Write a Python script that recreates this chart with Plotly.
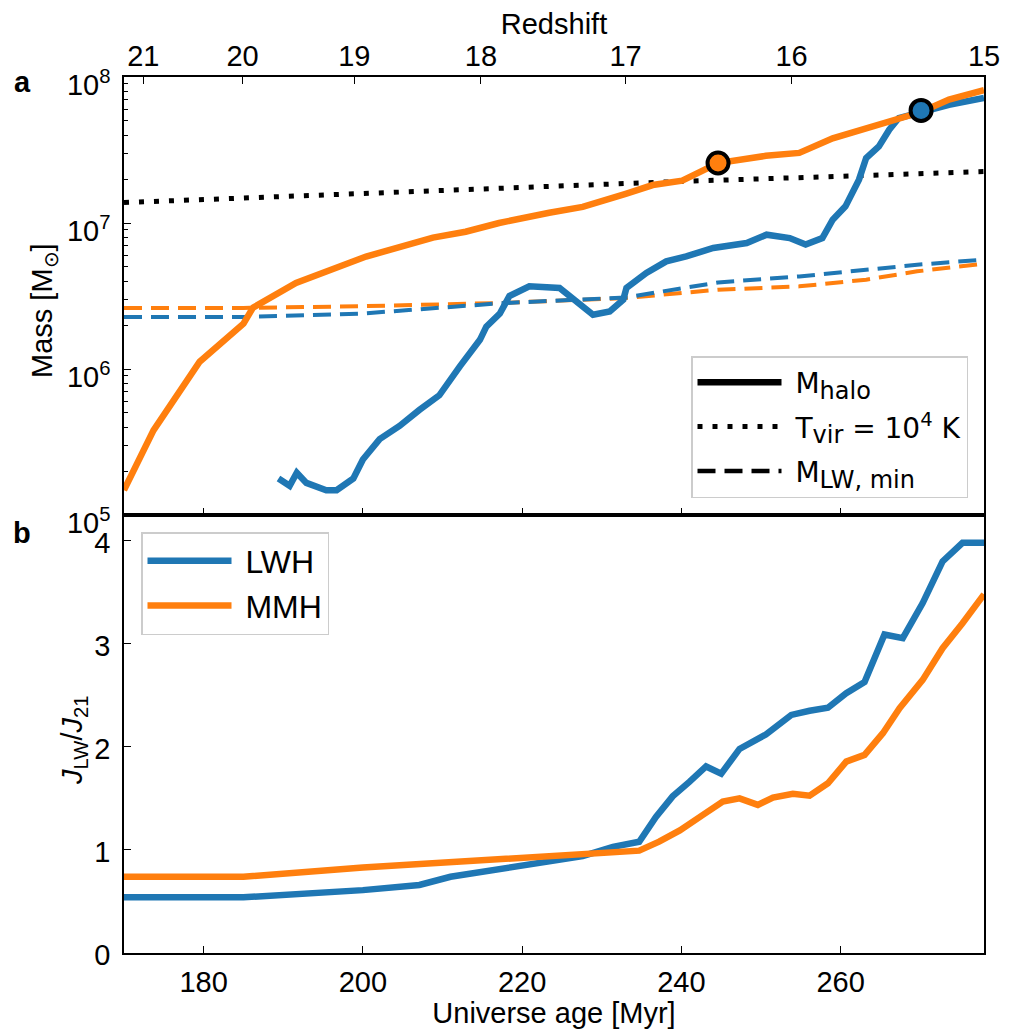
import plotly.graph_objects as go

# ---------------- data ----------------
# Panel a: halo masses (log10 of M / Msun)
mmh_age = [170.0, 173.7, 179.5, 185.0, 186.2, 191.6, 200.4, 208.8, 212.9, 217.1, 223.4,
           227.6, 233.0, 236.4, 240.1, 242.3, 244.6, 250.6, 254.8, 259.0, 263.2, 267.4,
           270.1, 273.6, 278.0]
mmh_logm = [5.17, 5.58, 6.05, 6.31, 6.42, 6.59, 6.77, 6.90, 6.94, 7.00, 7.07,
            7.11, 7.20, 7.26, 7.29, 7.35, 7.41, 7.46, 7.48, 7.58, 7.65, 7.71,
            7.76, 7.845, 7.91]

lwh_age = [189.4, 190.8, 191.7, 192.9, 195.4, 196.7, 198.8, 200.0, 202.1, 204.6, 207.1,
           209.6, 212.2, 214.7, 215.5, 217.2, 218.4, 220.9, 224.7, 226.4, 228.9, 231.0,
           232.7, 233.1, 235.6, 238.1, 240.6, 244.0, 248.2, 250.7, 253.6, 255.6, 257.7,
           259.0, 260.6, 262.3, 263.2, 264.8, 266.1, 267.3, 270.1, 273.6, 278.0]
lwh_logm = [5.25, 5.20, 5.29, 5.22, 5.17, 5.17, 5.25, 5.38, 5.52, 5.61, 5.72,
            5.82, 6.02, 6.20, 6.29, 6.38, 6.50, 6.566, 6.555, 6.475, 6.372, 6.394,
            6.475, 6.555, 6.658, 6.737, 6.771, 6.829, 6.863, 6.92, 6.897, 6.852, 6.897,
            7.023, 7.114, 7.297, 7.445, 7.525, 7.639, 7.719, 7.764, 7.81, 7.856]

# T_vir = 1e4 K mass threshold
tvir_age = [170.0, 200.0, 220.0, 240.0, 260.0, 278.0]
tvir_logm = [7.14, 7.205, 7.245, 7.285, 7.32, 7.353]

# Minimum LW mass (dashed)
mlw_age = [170.0, 185.0, 200.0, 217.1, 233.0, 244.6, 254.8, 263.2, 269.6, 278.0]
mlw_lwh_logm = [6.356, 6.356, 6.38, 6.45, 6.49, 6.593, 6.634, 6.68, 6.714, 6.749]
mlw_mmh_logm = [6.418, 6.418, 6.43, 6.452, 6.486, 6.543, 6.566, 6.612, 6.669, 6.721]

# markers
mark_mmh = (244.6, 7.411)
mark_lwh = (270.1, 7.771)

# Panel b: J_LW / J_21
j_lwh_age = [170.0, 185.0, 200.0, 207.1, 211.0, 217.2, 223.4, 227.6, 231.4, 234.7, 236.8,
             238.9, 241.0, 243.1, 245.0, 247.3, 250.6, 253.8, 256.1, 258.4, 260.7, 263.0,
             265.5, 267.8, 270.3, 272.8, 275.3, 278.0]
j_lwh = [0.54, 0.54, 0.61, 0.66, 0.74, 0.82, 0.89, 0.94, 1.03, 1.08, 1.32,
         1.52, 1.66, 1.81, 1.74, 1.98, 2.12, 2.31, 2.35, 2.38, 2.52, 2.63,
         3.09, 3.055, 3.395, 3.80, 3.98, 3.98]
j_mmh_age = [170.0, 185.0, 200.0, 208.8, 217.1, 223.4, 229.7, 234.7, 237.2, 239.8, 242.7,
             245.2, 247.3, 249.6, 251.5, 254.0, 256.1, 258.4, 260.7, 263.0, 265.3, 267.4,
             270.3, 272.8, 275.3, 278.0]
j_mmh = [0.74, 0.74, 0.83, 0.87, 0.91, 0.94, 0.968, 0.993, 1.08, 1.19, 1.34,
         1.47, 1.50, 1.437, 1.508, 1.544, 1.527, 1.647, 1.857, 1.922, 2.133, 2.376,
         2.65, 2.958, 3.20, 3.48]

# axis ticks
age_ticks = [180, 200, 220, 240, 260]
redshift_ticks = [21, 20, 19, 18, 17, 16, 15]
mass_ticks = [5, 6, 7, 8]
j_ticks = [0, 1, 2, 3, 4]

# ---------------- styling ----------------
BLUE = "#1f77b4"
ORANGE = "#ff7f0e"
FONT = "Liberation Sans"
TICKFONT = dict(family=FONT, size=29, color="black")
SUBSPAN = "<span style='font-size:24px'>%s</span>"
NBSP = "\u00a0"

# page geometry (the page body adds an 8 px offset)
OFF = 8
W, H = 1001, 1021
L, R, T, B = 116, 25, 69, 76
pwid, phei = W - L - R, H - T - B


def px(x_page):
    return (x_page - OFF - L) / pwid


def py(y_page):
    return (H - B - (y_page - OFF)) / phei


def redshift_to_age(z):
    # matter-dominated scaling anchored at z=15 -> 278 Myr
    return 278.0 * (16.0 / (1.0 + z)) ** 1.5


pw = lambda l: [10 ** v for v in l]

fig = go.Figure()

# --- panel a ---
fig.add_trace(go.Scatter(x=mlw_age, y=pw(mlw_mmh_logm), mode="lines", xaxis="x", yaxis="y",
                         line=dict(color=ORANGE, width=4, dash="18px,9px"), showlegend=False))
fig.add_trace(go.Scatter(x=mlw_age, y=pw(mlw_lwh_logm), mode="lines", xaxis="x", yaxis="y",
                         line=dict(color=BLUE, width=4, dash="18px,9px"), showlegend=False))
fig.add_trace(go.Scatter(x=tvir_age, y=pw(tvir_logm), mode="lines", xaxis="x", yaxis="y",
                         line=dict(color="black", width=5, dash="5px,10px"), showlegend=False))
fig.add_trace(go.Scatter(x=lwh_age, y=pw(lwh_logm), mode="lines", xaxis="x", yaxis="y",
                         line=dict(color=BLUE, width=6.5), showlegend=False))
fig.add_trace(go.Scatter(x=mmh_age, y=pw(mmh_logm), mode="lines", xaxis="x", yaxis="y",
                         line=dict(color=ORANGE, width=6.5), showlegend=False))
fig.add_trace(go.Scatter(x=[mark_mmh[0]], y=[10 ** mark_mmh[1]], mode="markers", xaxis="x", yaxis="y",
                         marker=dict(color=ORANGE, size=21, line=dict(color="black", width=4)),
                         showlegend=False))
fig.add_trace(go.Scatter(x=[mark_lwh[0]], y=[10 ** mark_lwh[1]], mode="markers", xaxis="x", yaxis="y",
                         marker=dict(color=BLUE, size=21, line=dict(color="black", width=4)),
                         showlegend=False))
# empty trace so the redshift (top) axis is drawn
fig.add_trace(go.Scatter(x=[None], y=[None], mode="lines", xaxis="x3", yaxis="y",
                         showlegend=False, hoverinfo="skip"))

# legend entries for panel a (style keys)
fig.add_trace(go.Scatter(x=[None], y=[None], mode="lines", xaxis="x", yaxis="y",
                         line=dict(color="black", width=6.5), legendgroup="g1",
                         name=NBSP + "M<sub>" + SUBSPAN % "halo" + "</sub>", legend="legend"))
fig.add_trace(go.Scatter(x=[None], y=[None], mode="lines", xaxis="x", yaxis="y",
                         line=dict(color="black", width=5, dash="5px,10px"), legendgroup="g2",
                         name=NBSP + "T<sub>" + SUBSPAN % "vir" + "</sub> = 10<sup>4</sup> K",
                         legend="legend"))
fig.add_trace(go.Scatter(x=[None], y=[None], mode="lines", xaxis="x", yaxis="y",
                         line=dict(color="black", width=4.5, dash="18px,9px"), legendgroup="g3",
                         name=NBSP + "M<sub>" + SUBSPAN % "LW, min" + "</sub>", legend="legend"))

# --- panel b ---
fig.add_trace(go.Scatter(x=j_lwh_age, y=j_lwh, mode="lines", xaxis="x2", yaxis="y2",
                         line=dict(color=BLUE, width=6.5), name=NBSP + "LWH", legend="legend2"))
fig.add_trace(go.Scatter(x=j_mmh_age, y=j_mmh, mode="lines", xaxis="x2", yaxis="y2",
                         line=dict(color=ORANGE, width=6.5), name=NBSP + "MMH", legend="legend2"))

axis_common = dict(showline=True, linecolor="black", linewidth=1.5, mirror=True,
                   showgrid=False, zeroline=False, ticks="inside", tickcolor="black",
                   ticklen=7, tickwidth=1.3, tickfont=TICKFONT)

minor_vals = [m * 10 ** e for e in (5, 6, 7) for m in range(2, 10)]

fig.update_layout(
    width=W, height=H,
    margin=dict(l=L, r=R, t=T, b=B, autoexpand=False),
    paper_bgcolor="white", plot_bgcolor="white",
    xaxis=dict(domain=[0, 1], anchor="y", range=[170, 278], tickvals=age_ticks,
               showticklabels=False, **axis_common),
    yaxis=dict(domain=[0.5, 1], anchor="x", type="log", range=[5, 8],
               tickvals=[10 ** v for v in mass_ticks],
               ticktext=["10<sup>%d</sup>" % v for v in mass_ticks],
               ticklabelstandoff=6, ticklabelshift=8,
               minor=dict(tickvals=minor_vals, ticks="inside", ticklen=4, tickcolor="black",
                          tickwidth=1),
               **axis_common),
    xaxis3=dict(overlaying="x", anchor="y", side="top", range=[170, 278],
                tickvals=[redshift_to_age(z) for z in redshift_ticks],
                ticktext=[str(z) for z in redshift_ticks],
                title=dict(text="Redshift", font=TICKFONT, standoff=4),
                ticklabelstandoff=4,
                showline=False, showgrid=False, zeroline=False, ticks="inside",
                tickcolor="black", ticklen=7, tickwidth=1.3, tickfont=TICKFONT),
    xaxis2=dict(domain=[0, 1], anchor="y2", range=[170, 278], tickvals=age_ticks,
                title=dict(text="Universe age [Myr]", font=TICKFONT, standoff=2),
                ticklabelstandoff=2, **axis_common),
    yaxis2=dict(domain=[0, 0.5], anchor="x2", range=[0, 4.25], tickvals=j_ticks,
                ticklabelstandoff=6, ticklabelshift=2, **axis_common),
    legend=dict(x=px(968), y=py(498), xanchor="right", yanchor="bottom",
                bgcolor="white", bordercolor="#cccccc", borderwidth=1.5,
                font=dict(family="DejaVu Sans", size=28, color="black"),
                itemwidth=84, tracegroupgap=5),
    legend2=dict(x=px(141), y=py(532), xanchor="left", yanchor="top",
                 bgcolor="white", bordercolor="#cccccc", borderwidth=1.5,
                 font=dict(family=FONT, size=32, color="black"),
                 itemwidth=84, tracegroupgap=0),
    annotations=[
        dict(text="<b>a</b>", x=px(22), y=py(82), xref="paper", yref="paper", showarrow=False,
             xanchor="center", yanchor="middle",
             font=dict(family=FONT, size=29, color="black")),
        dict(text="<b>b</b>", x=px(22), y=py(533), xref="paper", yref="paper", showarrow=False,
             xanchor="center", yanchor="middle",
             font=dict(family=FONT, size=29, color="black")),
        dict(text="Mass [M<sub>⊙</sub>]", x=px(44), y=py(311), xref="paper", yref="paper",
             textangle=-90, showarrow=False, xanchor="center", yanchor="middle",
             font=dict(family=FONT, size=29, color="black")),
        dict(text="<i>J</i><sub>LW</sub>/<i>J</i><sub>21</sub>", x=px(74), y=py(740),
             xref="paper", yref="paper", textangle=-90, showarrow=False,
             xanchor="center", yanchor="middle",
             font=dict(family=FONT, size=29, color="black")),
    ],
)

fig.write_html("out.html")
